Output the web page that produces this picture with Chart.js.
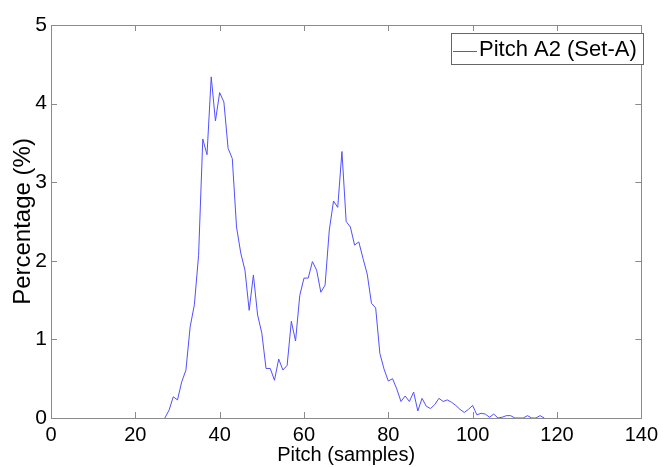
<!DOCTYPE html>
<html>
<head>
<meta charset="utf-8">
<script src="https://cdn.jsdelivr.net/npm/chart.js@4/dist/chart.umd.min.js"></script>
<style>
  html, body { margin: 0; padding: 0; background: #fff; }
  #wrap { width: 665px; height: 467px; }
</style>
</head>
<body>
<div id="wrap"><canvas id="myChart" width="665" height="467"></canvas></div>
<script>
// pitch (samples) and percentage
const pitch = [27, 28, 29, 30, 31, 32, 33, 34, 35, 36, 37, 38, 39, 40, 41, 42, 43, 44, 45, 46,
    47, 48, 49, 50, 51, 52, 53, 54, 55, 56, 57, 58, 59, 60, 61, 62, 63, 64, 65, 66,
    67, 68, 69, 70, 71, 72, 73, 74, 75, 76, 77, 78, 79, 80, 81, 82, 83, 84, 85, 86,
    87, 88, 89, 90, 91, 92, 93, 94, 95, 96, 97, 98, 99, 100, 101, 102, 103, 104, 105, 106,
    107, 108, 109, 110, 111, 112, 113, 114, 115, 116, 117];
const percentage = [0, 0.10, 0.27, 0.23, 0.46, 0.61, 1.16, 1.44, 2.07, 3.55, 3.35, 4.34, 3.78, 4.14, 4.02, 3.43, 3.30, 2.43, 2.10, 1.88,
    1.37, 1.82, 1.31, 1.08, 0.63, 0.63, 0.48, 0.75, 0.61, 0.67, 1.23, 0.98, 1.56, 1.78, 1.78, 1.99, 1.88, 1.60, 1.69, 2.39,
    2.76, 2.68, 3.39, 2.50, 2.43, 2.20, 2.24, 2.03, 1.83, 1.46, 1.40, 0.82, 0.62, 0.47, 0.50, 0.37, 0.21, 0.28, 0.21, 0.33,
    0.09, 0.25, 0.15, 0.12, 0.17, 0.25, 0.21, 0.23, 0.20, 0.16, 0.11, 0.07, 0.11, 0.16, 0.04, 0.06, 0.05, 0.01, 0.05, 0,
    0.01, 0.03, 0.03, 0, 0, 0, 0.03, 0, 0, 0.03, 0];
const seriesLabel = 'Pitch A2 (Set-A)';
const xTicks = [0, 20, 40, 60, 80, 100, 120, 140];
const yTicks = [0, 1, 2, 3, 4, 5];

const LINE = 'rgb(80,80,255)';
const FRAME = '#8a8a8a';
const FONT = '"Liberation Sans", Arial, sans-serif';

// matlab-like box with inward ticks + legend in the corner
const matlabBox = {
    id: 'matlabBox',
    afterDraw(chart) {
        const { ctx, chartArea: a, scales: { x, y } } = chart;
        ctx.save();
        ctx.strokeStyle = FRAME;
        ctx.lineWidth = 1;
        ctx.strokeRect(Math.round(a.left) + 0.5, Math.round(a.top) + 0.5,
            Math.round(a.right - a.left), Math.round(a.bottom - a.top));

        ctx.beginPath();
        for (const v of xTicks) {
            const px = Math.round(x.getPixelForValue(v)) + 0.5;
            ctx.moveTo(px, a.bottom); ctx.lineTo(px, a.bottom - 6);
            ctx.moveTo(px, a.top); ctx.lineTo(px, a.top + 6);
        }
        for (const v of yTicks) {
            const py = Math.round(y.getPixelForValue(v)) + 0.5;
            ctx.moveTo(a.left, py); ctx.lineTo(a.left + 6, py);
            ctx.moveTo(a.right, py); ctx.lineTo(a.right - 6, py);
        }
        ctx.stroke();

        // legend
        const lx = 451, ly = 33, lw = 192, lh = 31;
        ctx.fillStyle = '#fff';
        ctx.fillRect(lx, ly, lw, lh);
        ctx.strokeStyle = '#666';
        ctx.strokeRect(lx + 0.5, ly + 0.5, lw, lh);
        ctx.strokeStyle = LINE;
        ctx.beginPath();
        ctx.moveTo(453, 51.5); ctx.lineTo(477, 51.5);
        ctx.stroke();
        ctx.fillStyle = '#000';
        ctx.font = '22px ' + FONT;
        ctx.textBaseline = 'middle';
        ctx.fillText(chart.data.datasets[0].label, 479, 50);
        ctx.restore();
    }
};

new Chart(document.getElementById('myChart'), {
    type: 'line',
    data: {
        datasets: [{
            label: seriesLabel,
            data: pitch.map((p, i) => ({ x: p, y: percentage[i] })),
            borderColor: LINE,
            borderWidth: 1,
            pointRadius: 0,
            tension: 0,
            fill: false,
        }]
    },
    options: {
        responsive: false,
        animation: false,
        layout: { padding: { top: 25, right: 18, left: 0, bottom: 0 } },
        plugins: {
            legend: { display: false },
            tooltip: { enabled: false },
        },
        scales: {
            x: {
                type: 'linear',
                min: 0, max: 140,
                afterFit(scale) { scale.height = 49; },
                afterBuildTicks(scale) { scale.ticks = xTicks.map(v => ({ value: v })); },
                grid: { display: false, drawTicks: false },
                border: { display: false },
                ticks: {
                    color: '#000', padding: 7, maxRotation: 0,
                    font: { family: FONT, size: 20, lineHeight: 1 },
                },
                title: {
                    display: true, text: 'Pitch (samples)', color: '#000',
                    padding: { top: 0, bottom: 2 },
                    font: { family: FONT, size: 20, lineHeight: 1 },
                },
            },
            y: {
                min: 0, max: 5,
                afterFit(scale) { scale.width = 51; },
                afterBuildTicks(scale) { scale.ticks = yTicks.map(v => ({ value: v })); },
                grid: { display: false, drawTicks: false },
                border: { display: false },
                ticks: {
                    color: '#000', padding: 4,
                    font: { family: FONT, size: 21, lineHeight: 1 },
                },
                title: {
                    display: true, text: 'Percentage (%)', color: '#000',
                    padding: { top: 11, bottom: 0 },
                    font: { family: FONT, size: 24, lineHeight: 1 },
                },
            },
        },
    },
    plugins: [matlabBox],
});
</script>
</body>
</html>
